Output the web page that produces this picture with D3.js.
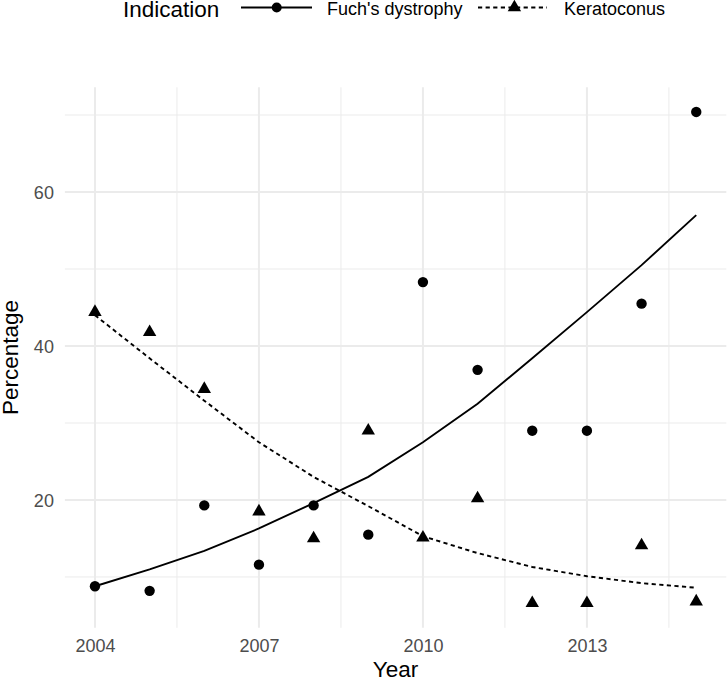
<!DOCTYPE html>
<html>
<head>
<meta charset="utf-8">
<script src="https://cdn.jsdelivr.net/npm/d3@7"></script>
<style>
  html, body { margin: 0; padding: 0; background: #fff; }
  svg { display: block; font-family: "Liberation Sans", Arial, sans-serif; }
</style>
</head>
<body>
<svg id="chart" width="727" height="679"></svg>
<script>
const years = [2004, 2005, 2006, 2007, 2008, 2009, 2010, 2011, 2012, 2013, 2014, 2015];
const fuchsValues = [8.8, 8.2, 19.3, 11.6, 19.3, 15.5, 48.3, 36.9, 29.0, 29.0, 45.5, 70.4];
const keratoconusValues = [44.4, 41.8, 34.4, 18.5, 15.0, 29.0, 15.1, 20.2, 6.6, 6.6, 14.1, 6.8];
const fuchsFit = [8.8, 11.0, 13.4, 16.3, 19.6, 23.0, 27.5, 32.5, 38.4, 44.4, 50.5, 57.0];
const keratoconusFit = [44.0, 38.4, 32.9, 27.5, 23.0, 19.2, 15.3, 13.1, 11.3, 10.1, 9.2, 8.6];
const xTicks = [2004, 2007, 2010, 2013];
const xMinor = [2005.5, 2008.5, 2011.5, 2014.5];
const yTicks = [20, 40, 60];
const yMinor = [10, 30, 50, 70];
const seriesNames = ["Fuch's dystrophy", "Keratoconus"];
const legendTitle = "Indication";
const xTitle = "Year";
const yTitle = "Percentage";

const svg = d3.select("#chart");

const x = d3.scaleLinear().domain([2003.45, 2015.55]).range([64.9, 726.3]);
const y = d3.scaleLinear().domain([3.4, 73.6]).range([627.8, 87.3]);

const gridColor = "#ebebeb";
const panel = { top: y(73.6), bottom: y(3.4), left: x(2003.45), right: x(2015.55) };

// minor grid
const g = svg.append("g");
g.selectAll(".ymin").data(yMinor).join("line")
  .attr("x1", panel.left).attr("x2", panel.right)
  .attr("y1", d => y(d)).attr("y2", d => y(d))
  .attr("stroke", gridColor).attr("stroke-width", 1);
g.selectAll(".xmin").data(xMinor).join("line")
  .attr("y1", panel.top).attr("y2", panel.bottom)
  .attr("x1", d => x(d)).attr("x2", d => x(d))
  .attr("stroke", gridColor).attr("stroke-width", 1);
// major grid
g.selectAll(".ymaj").data(yTicks).join("line")
  .attr("x1", panel.left).attr("x2", panel.right)
  .attr("y1", d => y(d)).attr("y2", d => y(d))
  .attr("stroke", gridColor).attr("stroke-width", 2);
g.selectAll(".xmaj").data(xTicks).join("line")
  .attr("y1", panel.top).attr("y2", panel.bottom)
  .attr("x1", d => x(d)).attr("x2", d => x(d))
  .attr("stroke", gridColor).attr("stroke-width", 2);

// axes (labels only, ggplot minimal style)
const xAxis = d3.axisBottom(x).tickValues(xTicks).tickFormat(d3.format("d")).tickSize(0).tickPadding(0);
const xa = svg.append("g").attr("transform", `translate(0,${panel.bottom})`).call(xAxis);
xa.select(".domain").remove();
xa.selectAll("text").attr("font-size", 18).attr("fill", "#4d4d4d")
  .attr("font-family", "Liberation Sans, Arial, sans-serif").attr("dy", null).attr("y", 24);

const yAxis = d3.axisLeft(y).tickValues(yTicks).tickSize(0).tickPadding(0);
const ya = svg.append("g").attr("transform", `translate(${panel.left},0)`).call(yAxis);
ya.select(".domain").remove();
ya.selectAll("text").attr("font-size", 18).attr("fill", "#4d4d4d")
  .attr("font-family", "Liberation Sans, Arial, sans-serif").attr("x", -11).attr("dy", "0.35em");

// axis titles
svg.append("text").attr("x", x(2009.5)).attr("y", 677).attr("text-anchor", "middle")
  .attr("font-size", 22.5).attr("fill", "#000").text(xTitle);
svg.append("text").attr("transform", `translate(18,${y(38.5)}) rotate(-90)`).attr("text-anchor", "middle")
  .attr("font-size", 22.5).attr("fill", "#000").text(yTitle);

// fitted lines
const line = d3.line().x((d, i) => x(years[i])).y(d => y(d));
svg.append("path").datum(fuchsFit).attr("d", line).attr("fill", "none")
  .attr("stroke", "#000").attr("stroke-width", 1.9);
svg.append("path").datum(keratoconusFit).attr("d", line).attr("fill", "none")
  .attr("stroke", "#000").attr("stroke-width", 1.9).attr("stroke-dasharray", "4.2,3.4");

// points
const tri = d3.symbol().type(d3.symbolTriangle).size(78);
svg.append("g").selectAll("circle").data(fuchsValues).join("circle")
  .attr("cx", (d, i) => x(years[i])).attr("cy", d => y(d)).attr("r", 5.2).attr("fill", "#000");
svg.append("g").selectAll("path").data(keratoconusValues).join("path")
  .attr("d", tri).attr("transform", (d, i) => `translate(${x(years[i])},${y(d)})`).attr("fill", "#000");

// legend
const lg = svg.append("g");
lg.append("text").attr("x", 123).attr("y", 17).attr("font-size", 22.5).attr("fill", "#000").text(legendTitle);
lg.append("line").attr("x1", 241).attr("x2", 312).attr("y1", 7.5).attr("y2", 7.5)
  .attr("stroke", "#000").attr("stroke-width", 1.9);
lg.append("circle").attr("cx", 276.7).attr("cy", 7.5).attr("r", 5.0).attr("fill", "#000");
lg.append("text").attr("x", 327).attr("y", 15).attr("font-size", 18).attr("fill", "#000").text(seriesNames[0]);
lg.append("line").attr("x1", 478).attr("x2", 547).attr("y1", 7.5).attr("y2", 7.5)
  .attr("stroke", "#000").attr("stroke-width", 1.9).attr("stroke-dasharray", "4.2,3.4");
lg.append("path").attr("d", tri).attr("transform", "translate(514.4,7.5)").attr("fill", "#000");
lg.append("text").attr("x", 564).attr("y", 15).attr("font-size", 18).attr("fill", "#000").text(seriesNames[1]);
</script>
</body>
</html>
